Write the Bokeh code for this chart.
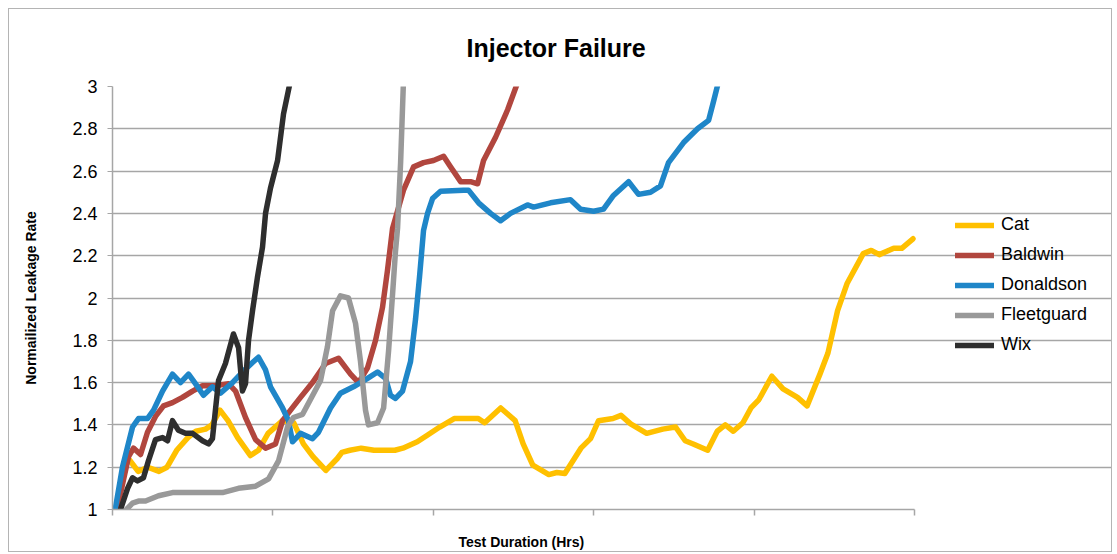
from bokeh.plotting import figure
from bokeh.models import (Legend, LegendItem, FixedTicker, NumeralTickFormatter,
                          CustomJSTickFormatter, Title, Range1d)
from bokeh.embed import file_html
from bokeh.resources import INLINE

# ---------------- data ----------------
series_names = ["Cat", "Baldwin", "Donaldson", "Fleetguard", "Wix"]

cat_x = [10, 16, 22, 29, 34, 40, 47, 52, 58, 62, 67, 72, 78, 86, 91, 97, 106, 113, 119, 125,
         133, 140, 143, 148, 155, 163, 176, 181, 190, 196, 204, 213, 223, 228, 232, 242, 251,
         256, 262, 272, 277, 282, 292, 298, 303, 312, 317, 323, 333, 343, 351, 357, 362, 371,
         377, 382, 387, 393, 398, 403, 411, 418, 427, 433, 441, 446, 452, 458, 468, 473, 478,
         487, 492, 499]
cat_y = [1.24, 1.18, 1.20, 1.18, 1.20, 1.28, 1.34, 1.37, 1.38, 1.40, 1.47, 1.42, 1.34, 1.255,
         1.28, 1.36, 1.42, 1.41, 1.31, 1.25, 1.185, 1.24, 1.27, 1.28, 1.29, 1.28, 1.28, 1.29,
         1.32, 1.35, 1.39, 1.43, 1.43, 1.43, 1.41, 1.48, 1.42, 1.31, 1.21, 1.165, 1.175, 1.17,
         1.29, 1.335, 1.42, 1.43, 1.445, 1.405, 1.36, 1.38, 1.39, 1.325, 1.31, 1.28, 1.37, 1.40,
         1.37, 1.41, 1.48, 1.52, 1.63, 1.57, 1.53, 1.49, 1.64, 1.74, 1.94, 2.07, 2.21, 2.225,
         2.205, 2.235, 2.235, 2.28]

baldwin_x = [0.6, 3.1, 10.0, 13.1, 17.5, 21.8, 26.8, 31.8, 37.4, 43.6, 49.9, 56.1, 64.2, 72.3,
             76.7, 82.9, 89.2, 95.4, 101.6, 106.0, 111.0, 117.2, 124.7, 132.8, 140.9, 148.4,
             153.4, 159.0, 164.0, 168.3, 171.4, 174.6, 181.4, 187.7, 193.9, 200.1, 206.4,
             210.7, 217.0, 223.2, 227.6, 231.3, 238.8, 246.3, 253.1]
baldwin_y = [1.0, 1.01, 1.25, 1.29, 1.26, 1.365, 1.44, 1.49, 1.505, 1.53, 1.56, 1.585, 1.585,
             1.595, 1.56, 1.435, 1.33, 1.29, 1.31, 1.42, 1.47, 1.53, 1.60, 1.69, 1.715, 1.64,
             1.60, 1.67, 1.80, 1.955, 2.13, 2.33, 2.51, 2.62, 2.64, 2.65, 2.67, 2.62, 2.55,
             2.55, 2.54, 2.65, 2.76, 2.89, 3.03]

donaldson_x = [0.0, 1.9, 6.2, 12.5, 16.2, 21.8, 25.6, 31.2, 37.4, 42.4, 47.4, 51.7, 56.7,
               62.3, 67.3, 74.8, 81.0, 87.3, 91.0, 95.4, 98.5, 106.0, 109.7, 112.2, 117.2,
               124.7, 128.4, 135.9, 142.1, 150.2, 159.0, 165.2, 170.2, 173.3, 176.4, 180.8,
               185.8, 188.9, 191.4, 193.9, 196.4, 199.5, 204.5, 218.8, 221.9, 228.2, 235.7,
               241.9, 248.1, 258.7, 262.5, 273.1, 285.5, 291.8, 299.9, 306.1, 312.3, 321.7,
               327.9, 335.4, 341.6, 346.6, 356.0, 364.7, 371.6, 374.7, 378.0]
donaldson_y = [1.0, 1.01, 1.2, 1.39, 1.43, 1.43, 1.47, 1.56, 1.64, 1.60, 1.64, 1.595, 1.54,
               1.58, 1.55, 1.60, 1.65, 1.695, 1.72, 1.66, 1.58, 1.48, 1.42, 1.32, 1.36, 1.335,
               1.365, 1.48, 1.55, 1.58, 1.62, 1.65, 1.62, 1.54, 1.525, 1.56, 1.70, 1.90, 2.10,
               2.32, 2.40, 2.47, 2.505, 2.51, 2.51, 2.45, 2.40, 2.365, 2.40, 2.44, 2.43, 2.45,
               2.465, 2.42, 2.41, 2.42, 2.485, 2.55, 2.49, 2.50, 2.53, 2.64, 2.735, 2.80, 2.84,
               2.93, 3.03]

fleetguard_x = [8.7, 12.5, 16.2, 20.6, 28.7, 37.4, 58.0, 68.6, 78.5, 89.2, 97.3, 103.5, 109.1,
                112.8, 118.5, 123.4, 129.7, 134.0, 137.2, 142.1, 147.1, 151.5, 154.6, 157.7,
                159.6, 165.2, 169.0, 172.1, 174.6, 176.4, 177.7, 179.6, 181.4]
fleetguard_y = [1.0, 1.03, 1.04, 1.04, 1.065, 1.08, 1.08, 1.08, 1.10, 1.11, 1.145, 1.23, 1.39,
                1.435, 1.45, 1.52, 1.61, 1.77, 1.94, 2.01, 2.00, 1.88, 1.70, 1.47, 1.40, 1.41,
                1.48, 1.75, 2.02, 2.22, 2.33, 2.64, 3.03]

wix_x = [5.0, 9.4, 12.5, 15.6, 19.3, 22.4, 26.8, 31.2, 34.3, 37.4, 41.1, 45.5, 49.9, 56.1,
         59.9, 62.3, 66.1, 70.4, 75.4, 78.6, 81.0, 82.9, 84.8, 87.3, 90.4, 93.5, 95.4, 98.5,
         102.9, 106.6, 111.0]
wix_y = [1.0, 1.10, 1.15, 1.135, 1.15, 1.23, 1.33, 1.34, 1.325, 1.42, 1.375, 1.36, 1.36, 1.325,
         1.31, 1.335, 1.61, 1.69, 1.83, 1.765, 1.56, 1.595, 1.80, 1.94, 2.10, 2.24, 2.40, 2.52,
         2.65, 2.87, 3.03]

y_ticks = [1, 1.2, 1.4, 1.6, 1.8, 2, 2.2, 2.4, 2.6, 2.8, 3]
x_ticks = [0, 100, 200, 300, 400, 500]
x_axis_end = 500

colors = ["#FFC000", "#B1463E", "#1F86C8", "#999999", "#2E2E2E"]

# ---------------- figure ----------------
FONT = "Liberation Sans"
p = figure(width=1104, height=544, output_backend="svg", toolbar_location=None,
           x_range=Range1d(0, 624), y_range=Range1d(1, 3))
p.styles = {"border": "1px solid #b4b4b4", "margin": "8px 0px 0px 8px"}
p.min_border_left = 103
p.min_border_right = 0
p.min_border_top = 77
p.min_border_bottom = 44
p.outline_line_color = None
p.background_fill_color = "white"
p.border_fill_color = "white"

t = Title(text="Injector Failure", align="left", vertical_align="top", text_font=FONT,
          text_font_size="25px", text_font_style="bold", text_color="black",
          offset=354, standoff=46)
p.add_layout(t, "above")

xs = [cat_x, baldwin_x, donaldson_x, fleetguard_x, wix_x]
ys = [cat_y, baldwin_y, donaldson_y, fleetguard_y, wix_y]
renderers = []
for x, y, c in zip(xs, ys, colors):
    r = p.line(x, y, line_color=c, line_width=5.5, line_join="round", line_cap="round")
    renderers.append(r)

# axes
p.yaxis.ticker = FixedTicker(ticks=y_ticks)
p.yaxis.formatter = NumeralTickFormatter(format="0.[0]")
p.yaxis.major_label_text_font = FONT
p.yaxis.major_label_text_font_size = "18px"
p.yaxis.major_label_text_color = "black"
p.yaxis.major_tick_out = 5
p.yaxis.major_tick_in = 0
p.yaxis.minor_tick_line_color = None
p.yaxis.major_tick_line_color = "#a6a6a6"
p.yaxis.axis_line_color = "#a6a6a6"
p.yaxis.axis_line_width = 1.5
p.yaxis.major_label_standoff = 10
p.yaxis.axis_label = "Normailized Leakage Rate"
p.yaxis.axis_label_text_font = FONT
p.yaxis.axis_label_text_font_size = "14px"
p.yaxis.axis_label_text_font_style = "bold"
p.yaxis.axis_label_text_color = "black"
p.yaxis.axis_label_standoff = 30

p.xaxis.ticker = FixedTicker(ticks=x_ticks)
p.xaxis.bounds = (0, x_axis_end)
p.xaxis.formatter = CustomJSTickFormatter(code="return ''")
p.xaxis.major_label_text_font_size = "1px"
p.xaxis.major_tick_out = 6
p.xaxis.major_tick_in = 0
p.xaxis.minor_tick_line_color = None
p.xaxis.major_tick_line_color = "#a6a6a6"
p.xaxis.major_tick_line_width = 1.5
p.xaxis.axis_line_color = "#a6a6a6"
p.xaxis.axis_line_width = 1.5

# spacer below the axis, then the x-axis title (left-aligned so it sits where the reference has it)
spacer = Title(text=" ", text_font=FONT, text_font_size="14px", standoff=0)
p.add_layout(spacer, "below")
xt = Title(text="Test Duration (Hrs)", align="left", vertical_align="top", text_font=FONT,
           text_font_size="14px", text_font_style="bold", text_color="black",
           offset=346, standoff=0)
p.add_layout(xt, "below")

p.xgrid.visible = False
p.ygrid.ticker = FixedTicker(ticks=y_ticks)
p.ygrid.bounds = (0, x_axis_end)
p.ygrid.grid_line_color = "#a6a6a6"
p.ygrid.grid_line_width = 1.4

legend = Legend(items=[LegendItem(label=n, renderers=[r]) for n, r in zip(series_names, renderers)],
                location=(843, 154), padding=0, margin=0, spacing=9, glyph_width=39,
                glyph_height=20, label_height=20, label_standoff=7, label_text_font=FONT,
                label_text_font_size="18px", label_text_color="black",
                border_line_color=None, background_fill_alpha=0)
p.add_layout(legend, "center")

open("out.html", "w").write(file_html(p, INLINE))
